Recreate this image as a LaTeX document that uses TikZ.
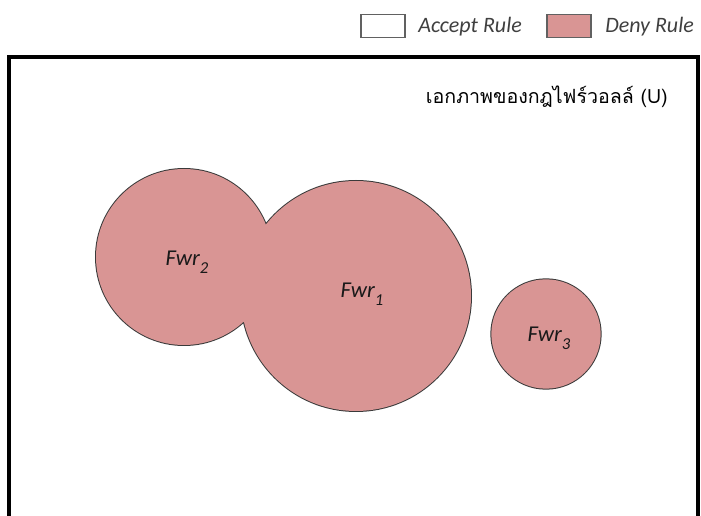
\documentclass[tikz,border=0pt]{standalone}
\usepackage{fontspec}
\setmainfont{Carlito}
\newfontfamily\thaifont[Script=Thai]{Loma}
\newcommand{\rulename}[1]{\textit{Fwr\raisebox{-0.35em}{\fontsize{12.5pt}{12.5pt}\selectfont #1}}}
\definecolor{denyfill}{HTML}{D99594}
\definecolor{rimcol}{HTML}{3A3A3A}
\tikzset{
  setrim/.style={draw=rimcol, line width=1.5pt},
  setfill/.style={fill=denyfill},
  legendbox/.style={draw=rimcol!80, line width=1pt, minimum width=33pt, minimum height=17.5pt, inner sep=0pt},
  legendtext/.style={font=\fontsize{16.5pt}{18pt}\selectfont\itshape, text=black!75, anchor=west, inner sep=0pt},
  rulelabel/.style={font=\fontsize{17pt}{19pt}\selectfont, text=black!90, inner sep=0pt}
}
\begin{document}
\begin{tikzpicture}[x=0.75pt, y=-0.75pt]
  \useasboundingbox (0,0) rectangle (701,516);
  \clip (0,0) rectangle (701,516);

  % universe frame (open at the bottom edge)
  \draw[line width=2.3pt, black] (9,530) |- (698,57) -- (698,530);

  % legend
  \node[legendbox, fill=white] (acceptbox) at (383,26) {};
  \node[legendtext] (accepttext) at (418,27) {Accept Rule};
  \node[legendbox, fill=denyfill] (denybox) at (569,26) {};
  \node[legendtext] (denytext) at (605,27) {Deny Rule};

  % universe title
  \node[font=\thaifont\fontsize{14.7pt}{17pt}\selectfont, anchor=east, inner sep=0pt] (title) at (668,97) {เอกภาพของกฎไฟร์วอลล์ (U)};

  % overlapping deny sets Fwr1 and Fwr2: outline of their union
  \path[setrim] (184,257) circle[radius=66pt] (356,296) circle[radius=86.25pt];
  \path[setfill] (184,257) circle[radius=66pt] (356,296) circle[radius=86.25pt];

  % separate deny set Fwr3
  \path[setrim] (546,334) circle[radius=41pt];
  \path[setfill] (546,334) circle[radius=41pt];

  % set labels
  \node[rulelabel] (fwr2) at (187,262) {\rulename{2}};
  \node[rulelabel] (fwr1) at (362,294) {\rulename{1}};
  \node[rulelabel] (fwr3) at (549,338) {\rulename{3}};
\end{tikzpicture}
\end{document}
